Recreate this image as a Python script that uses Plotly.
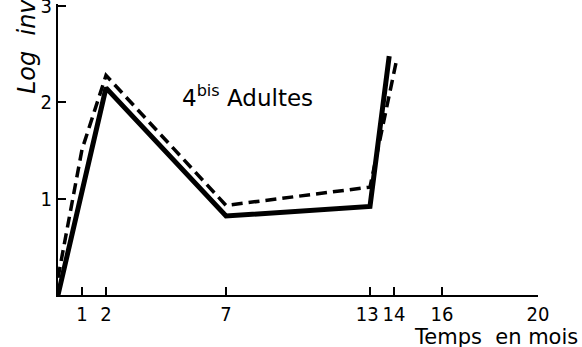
import plotly.graph_objects as go

# Data (months, log inv)
solid_x = [0, 2, 7, 13, 13.8]
solid_y = [0, 2.15, 0.82, 0.92, 2.48]
dash_x = [0, 1, 2, 7, 13, 14.1]
dash_y = [0.18, 1.51, 2.28, 0.93, 1.12, 2.43]
x_ticks = [1, 2, 7, 13, 14, 16, 20]
x_tick_labels = ["1", "2", "7", "13\u00a0", "14", "16", "20"]
y_ticks = [1, 2, 3]

TICKFONT = "DejaVu Sans Condensed, DejaVu Sans"
FONT = "DejaVu Sans"

fig = go.Figure()
fig.add_trace(go.Scatter(x=dash_x, y=dash_y, mode="lines",
                         line=dict(color="black", width=3.5, dash="11px,6px"),
                         showlegend=False, hoverinfo="skip"))
fig.add_trace(go.Scatter(x=solid_x, y=solid_y, mode="lines",
                         line=dict(color="black", width=5),
                         showlegend=False, hoverinfo="skip"))

axis_common = dict(showline=True, linecolor="black", linewidth=2,
                   ticks="inside", ticklen=8, tickwidth=2, tickcolor="black",
                   showgrid=False, zeroline=False, fixedrange=True, automargin=False,
                   tickfont=dict(family=TICKFONT, size=20, color="black"))

fig.update_layout(
    width=582, height=347,
    margin=dict(l=58, r=44, t=4, b=52),
    paper_bgcolor="white", plot_bgcolor="white",
    font=dict(family=FONT, size=20, color="black"),
    xaxis=dict(range=[0, 20], tickvals=x_ticks, ticktext=x_tick_labels,
               tickangle=0, **axis_common),
    yaxis=dict(range=[0, 3.021], tickvals=y_ticks, ticktext=[str(v) for v in y_ticks],
               ticklabeloverflow="allow", **axis_common),
    annotations=[
        dict(text="4<sup>bis</sup> Adultes", x=5.1, y=2.07, xref="x", yref="y",
             xanchor="left", yanchor="middle", showarrow=False,
             font=dict(family=FONT, size=23, color="black")),
        dict(text="Temps  en mois", x=1.0, y=0, xref="paper", yref="paper",
             xanchor="right", yanchor="top", xshift=42, yshift=-28, showarrow=False,
             font=dict(family=FONT, size=21, color="black")),
        dict(text="<i>Log  inv</i>", x=0, y=0.852, xref="paper", yref="paper",
             xanchor="center", yanchor="middle", xshift=-31, textangle=-90,
             showarrow=False, font=dict(family=FONT, size=24, color="black")),
    ],
)

fig.write_html("out.html", config={"displayModeBar": False},
               post_script="document.body.style.margin='0';document.body.style.padding='0';")
